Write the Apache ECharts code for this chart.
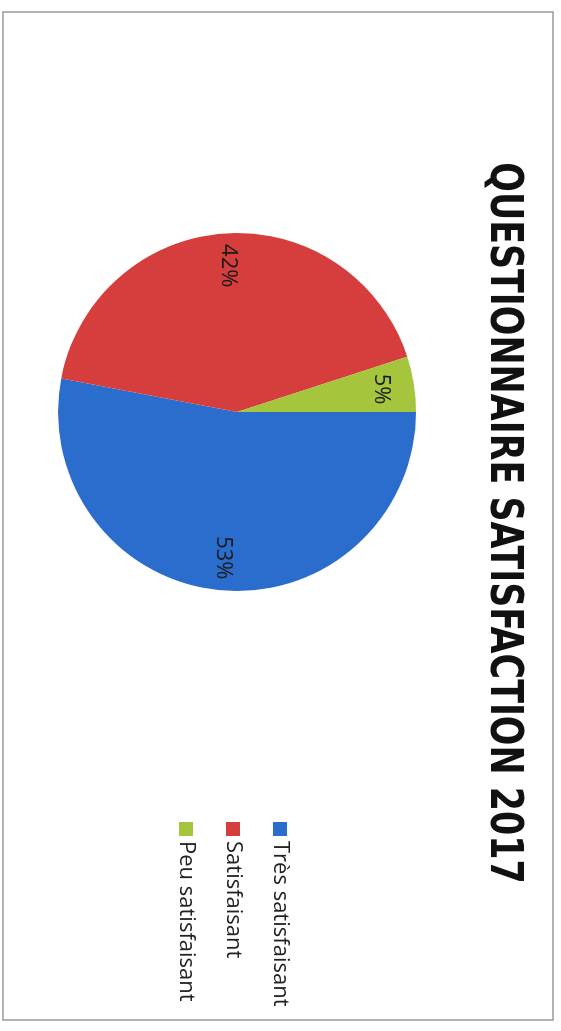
<!DOCTYPE html>
<html>
<head>
<meta charset="utf-8">
<script src="https://cdn.jsdelivr.net/npm/echarts@6/dist/echarts.min.js"></script>
<style>
  html, body { margin: 0; padding: 0; background: #fff; overflow: hidden; }
  #wrap { position: absolute; left: 0; top: 0; width: 561px; height: 1031px; overflow: hidden; }
  /* the scanned page is turned a quarter clockwise */
  #chart {
    position: absolute; left: 0; top: 0;
    width: 1031px; height: 561px;
    transform-origin: 0 0;
    transform: translateX(561px) rotate(90deg);
  }
</style>
</head>
<body>
<div id="wrap"><div id="chart"></div></div>
<script>
const titleText = 'QUESTIONNAIRE SATISFACTION 2017'
const categories = ['Très satisfaisant', 'Satisfaisant', 'Peu satisfaisant']
const values = [53, 42, 5]
const colors = ['#2b6dcc', '#d63d3d', '#a5c53c']

const myChart = echarts.init(document.getElementById('chart'))

const data = categories.map((name, i) => ({
    name: name,
    value: values[i],
    itemStyle: { color: colors[i] }
}))

myChart.setOption({
    animation: false,
    color: colors,
    legend: {
        orient: 'vertical',
        left: 817,
        top: 265,
        itemWidth: 14,
        itemHeight: 14,
        itemGap: 25,
        icon: 'rect',
        data: categories,
        textStyle: {
            fontFamily: '"Open Sans", sans-serif',
            fontSize: 22,
            lineHeight: 22,
            color: '#222'
        }
    },
    graphic: [
        {
            type: 'rect',
            shape: { x: 12, y: 8, width: 1008, height: 550 },
            style: { fill: 'none', stroke: '#9a9a9a', lineWidth: 1.5 },
            silent: true
        },
        {
            // title font is condensed, squeeze it a bit more
            type: 'text',
            x: 523,
            y: 37,
            scaleX: 0.88,
            silent: true,
            style: {
                text: titleText,
                textAlign: 'center',
                textVerticalAlign: 'top',
                font: 'bold 44px "DejaVu Sans Condensed", sans-serif',
                fill: '#111'
            }
        }
    ],
    series: [
        {
            type: 'pie',
            center: [412, 324],
            radius: [0, 179],
            startAngle: 90,
            clockwise: true,
            label: { show: false },
            labelLine: { show: false },
            data: data
        },
        {
            // transparent ring only to place the % labels further out
            type: 'pie',
            center: [412, 324],
            radius: [108, 179],
            startAngle: 90,
            clockwise: true,
            silent: true,
            itemStyle: { color: 'transparent' },
            label: {
                show: true,
                position: 'inside',
                formatter: '{d}%',
                fontFamily: '"Open Sans", sans-serif',
                fontSize: 22,
                color: '#1a1a1a'
            },
            labelLine: { show: false },
            data: categories.map((name, i) => ({ name: name, value: values[i] }))
        }
    ]
})
</script>
</body>
</html>
